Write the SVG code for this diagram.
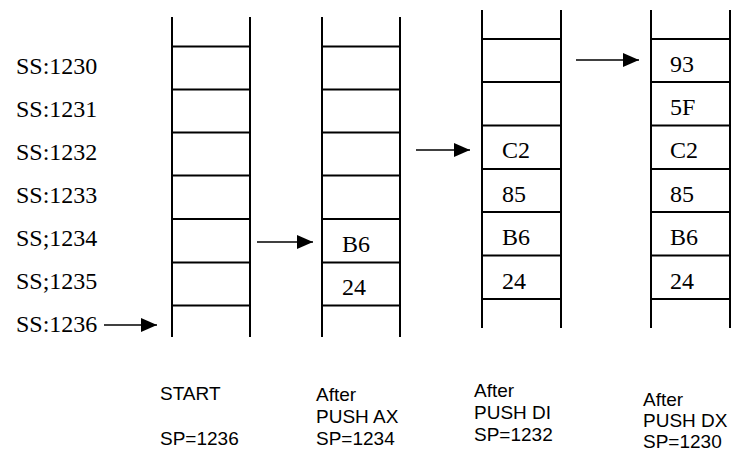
<svg xmlns="http://www.w3.org/2000/svg" width="733" height="452" viewBox="0 0 733 452">
  <style>
    .rail { stroke: #000; stroke-width: 2; fill: none; }
    .slot { stroke: #000; stroke-width: 2; fill: none; }
    .addr { font-family: "Liberation Serif", "Times New Roman", serif; font-size: 24px; fill: #000; }
    .val { font-family: "Liberation Serif", "Times New Roman", serif; font-size: 24px; fill: #000; }
    .cap { font-family: "Liberation Sans", Arial, sans-serif; font-size: 19px; fill: #000; }
    .conn { stroke: #000; stroke-width: 1.7; fill: none; marker-end: url(#head); }
  </style>
  <defs>
    <marker id="head" viewBox="0 0 16 14" refX="16" refY="7" markerWidth="16" markerHeight="14" markerUnits="userSpaceOnUse" orient="auto">
      <path d="M0,0 L16,7 L0,14 Z" fill="#000"/>
    </marker>
  </defs>

  <rect width="733" height="452" fill="#fff"/>

  <!-- address labels -->
  <g id="addresses">
    <text class="addr" x="16" y="73.5">SS:1230</text>
    <text class="addr" x="16" y="117">SS:1231</text>
    <text class="addr" x="16" y="160">SS:1232</text>
    <text class="addr" x="16" y="203">SS:1233</text>
    <text class="addr" x="16" y="246">SS;1234</text>
    <text class="addr" x="16" y="289">SS;1235</text>
    <text class="addr" x="16" y="332">SS:1236</text>
  </g>

  <!-- stack at START -->
  <g id="stack-start">
    <line class="rail" x1="172" y1="17" x2="172" y2="337"/>
    <line class="rail" x1="250" y1="17" x2="250" y2="337"/>
    <line class="slot" x1="172" y1="46.5" x2="250" y2="46.5"/>
    <line class="slot" x1="172" y1="89.5" x2="250" y2="89.5"/>
    <line class="slot" x1="172" y1="132.5" x2="250" y2="132.5"/>
    <line class="slot" x1="172" y1="175.5" x2="250" y2="175.5"/>
    <line class="slot" x1="172" y1="219" x2="250" y2="219"/>
    <line class="slot" x1="172" y1="262.5" x2="250" y2="262.5"/>
    <line class="slot" x1="172" y1="305.5" x2="250" y2="305.5"/>
  </g>

  <!-- stack after PUSH AX -->
  <g id="stack-push-ax">
    <line class="rail" x1="322" y1="17" x2="322" y2="337"/>
    <line class="rail" x1="400" y1="17" x2="400" y2="337"/>
    <line class="slot" x1="322" y1="46.5" x2="400" y2="46.5"/>
    <line class="slot" x1="322" y1="89.5" x2="400" y2="89.5"/>
    <line class="slot" x1="322" y1="132.5" x2="400" y2="132.5"/>
    <line class="slot" x1="322" y1="175.5" x2="400" y2="175.5"/>
    <line class="slot" x1="322" y1="219" x2="400" y2="219"/>
    <line class="slot" x1="322" y1="262.5" x2="400" y2="262.5"/>
    <line class="slot" x1="322" y1="305.5" x2="400" y2="305.5"/>
    <text class="val" x="342" y="252">B6</text>
    <text class="val" x="342" y="295">24</text>
  </g>

  <!-- stack after PUSH DI -->
  <g id="stack-push-di">
    <line class="rail" x1="482" y1="10" x2="482" y2="328"/>
    <line class="rail" x1="561" y1="10" x2="561" y2="328"/>
    <line class="slot" x1="482" y1="39" x2="561" y2="39"/>
    <line class="slot" x1="482" y1="82" x2="561" y2="82"/>
    <line class="slot" x1="482" y1="125.5" x2="561" y2="125.5"/>
    <line class="slot" x1="482" y1="169" x2="561" y2="169"/>
    <line class="slot" x1="482" y1="212" x2="561" y2="212"/>
    <line class="slot" x1="482" y1="255.5" x2="561" y2="255.5"/>
    <line class="slot" x1="482" y1="299" x2="561" y2="299"/>
    <text class="val" x="502" y="158">C2</text>
    <text class="val" x="502" y="201.5">85</text>
    <text class="val" x="502" y="245">B6</text>
    <text class="val" x="502" y="288.5">24</text>
  </g>

  <!-- stack after PUSH DX -->
  <g id="stack-push-dx">
    <line class="rail" x1="651" y1="10" x2="651" y2="328"/>
    <line class="rail" x1="730" y1="10" x2="730" y2="328"/>
    <line class="slot" x1="651" y1="39" x2="730" y2="39"/>
    <line class="slot" x1="651" y1="82" x2="730" y2="82"/>
    <line class="slot" x1="651" y1="125.5" x2="730" y2="125.5"/>
    <line class="slot" x1="651" y1="169" x2="730" y2="169"/>
    <line class="slot" x1="651" y1="212" x2="730" y2="212"/>
    <line class="slot" x1="651" y1="255.5" x2="730" y2="255.5"/>
    <line class="slot" x1="651" y1="299" x2="730" y2="299"/>
    <text class="val" x="670" y="71.5">93</text>
    <text class="val" x="670" y="115">5F</text>
    <text class="val" x="670" y="158">C2</text>
    <text class="val" x="670" y="201.5">85</text>
    <text class="val" x="670" y="245">B6</text>
    <text class="val" x="670" y="288.5">24</text>
  </g>

  <!-- stack pointer arrows -->
  <g id="connectors">
    <line class="conn" x1="104" y1="325" x2="157" y2="325"/>
    <line class="conn" x1="257" y1="242" x2="313" y2="242"/>
    <line class="conn" x1="416" y1="150" x2="470" y2="150"/>
    <line class="conn" x1="576" y1="60" x2="639" y2="60"/>
  </g>

  <!-- captions -->
  <g id="caption-start">
    <text class="cap" x="160" y="400">START</text>
    <text class="cap" x="160" y="445">SP=1236</text>
  </g>
  <g id="caption-push-ax">
    <text class="cap" x="316" y="401">After</text>
    <text class="cap" x="316" y="423">PUSH AX</text>
    <text class="cap" x="316" y="445">SP=1234</text>
  </g>
  <g id="caption-push-di">
    <text class="cap" x="474" y="397">After</text>
    <text class="cap" x="474" y="419">PUSH DI</text>
    <text class="cap" x="474" y="441">SP=1232</text>
  </g>
  <g id="caption-push-dx">
    <text class="cap" x="643" y="406">After</text>
    <text class="cap" x="643" y="427">PUSH DX</text>
    <text class="cap" x="643" y="448">SP=1230</text>
  </g>
</svg>
